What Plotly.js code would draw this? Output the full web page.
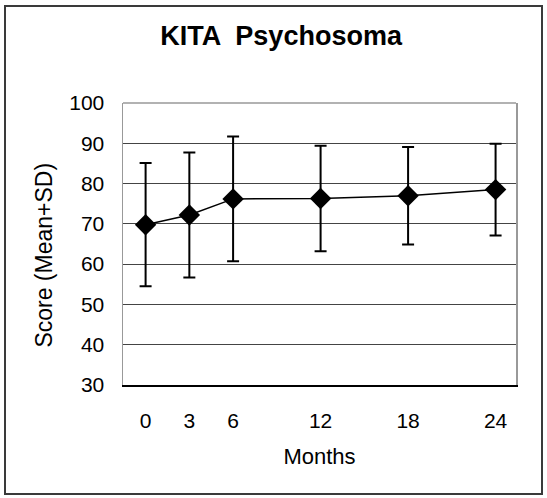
<!DOCTYPE html>
<html>
<head>
<meta charset="utf-8">
<script src="https://cdn.plot.ly/plotly-3.0.1.min.js"></script>
<style>
  html, body { margin: 0; padding: 0; background: #fff; }
  #wrap { position: relative; width: 547px; height: 498px; }
  #chart { position: absolute; left: 0; top: 0; width: 547px; height: 498px; }
  #frame { position: absolute; left: 4px; top: 5px; width: 535px; height: 486px;
           border: 2px solid #3a3a3a; pointer-events: none; }
</style>
</head>
<body>
<div id="wrap">
  <div id="chart"></div>
  <div id="frame"></div>
</div>
<script>
const months = [0, 3, 6, 12, 18, 24];
const meanScore = [69.8, 72.2, 76.2, 76.3, 77.0, 78.5];
const sdScore = [15.3, 15.5, 15.5, 13.1, 12.1, 11.4];
const yTicks = [30, 40, 50, 60, 70, 80, 90, 100];

const FONT = "Arial, 'Liberation Sans', Helvetica, sans-serif";

const trace = {
  x: months,
  y: meanScore,
  type: 'scatter',
  mode: 'lines+markers',
  line: { color: '#000', width: 1.5 },
  marker: { symbol: 'diamond', size: 16.5, color: '#000' },
  error_y: { type: 'data', array: sdScore, visible: true, color: '#000', thickness: 2, width: 6 },
  hoverinfo: 'skip'
};

const layout = {
  width: 547, height: 498,
  margin: { l: 123, r: 31, t: 103, b: 113 },
  paper_bgcolor: '#fff', plot_bgcolor: '#fff',
  showlegend: false,
  font: { family: FONT, color: '#000', size: 21 },
  title: {
    text: '<b>KITA  Psychosoma</b>',
    font: { family: FONT, size: 27, color: '#000' },
    x: 0.514, xanchor: 'center',
    y: 0.928, yanchor: 'middle'
  },
  xaxis: {
    range: [-1.55, 25.4],
    tickmode: 'array', tickvals: months, ticktext: months.map(String),
    showgrid: false, zeroline: false,
    showline: true, linecolor: '#000', linewidth: 1.5,
    ticks: '', ticklabelstandoff: 16,
    tickfont: { family: FONT, size: 21, color: '#000' },
    title: { text: 'Months', font: { family: FONT, size: 22, color: '#000' }, standoff: 18 },
    fixedrange: true
  },
  yaxis: {
    range: [30, 100],
    tickmode: 'array', tickvals: yTicks, ticktext: yTicks.map(String),
    showgrid: true, gridcolor: '#444', gridwidth: 1,
    zeroline: false,
    showline: true, linecolor: '#999', linewidth: 1.5, mirror: true,
    ticks: '', ticklabelstandoff: 13,
    tickfont: { family: FONT, size: 21, color: '#000' },
    fixedrange: true
  },
  annotations: [
    { text: 'Score (Mean+SD)', textangle: -90, showarrow: false,
      xref: 'paper', yref: 'paper',
      x: (43.6 - 123) / 393, y: (385 - 255) / 282,
      xanchor: 'center', yanchor: 'middle',
      font: { family: FONT, size: 23, color: '#000' } }
  ],
  shapes: [
    { type: 'line', xref: 'paper', yref: 'paper', x0: 0, x1: 1, y0: 1, y1: 1,
      line: { color: '#999', width: 1.5 } }
  ]
};

Plotly.newPlot('chart', [trace], layout, { displayModeBar: false, staticPlot: true });
</script>
</body>
</html>
